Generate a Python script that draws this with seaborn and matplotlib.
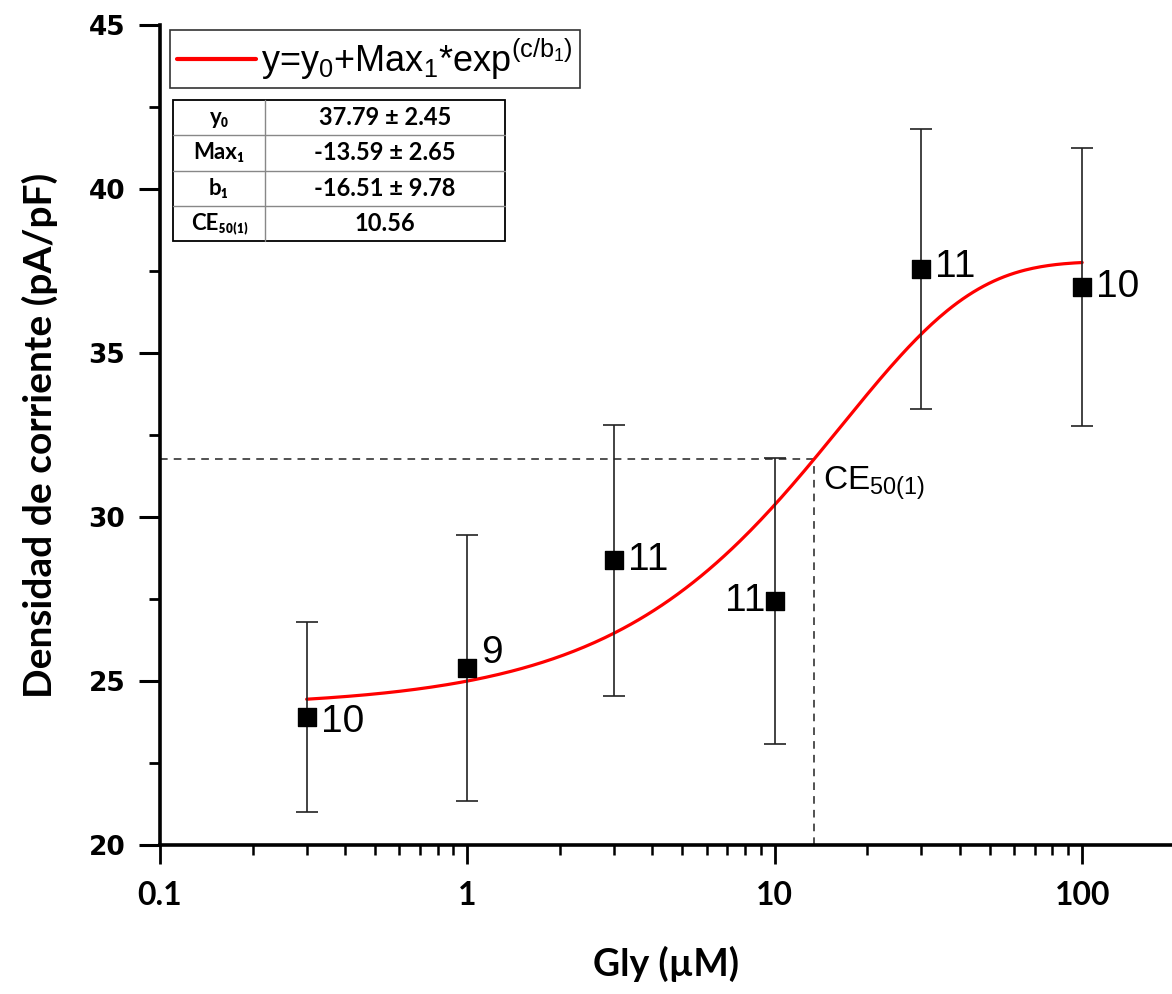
import numpy as np
import pandas as pd
import matplotlib
matplotlib.use("Agg")
import matplotlib.pyplot as plt
from matplotlib.lines import Line2D
from matplotlib.patches import Rectangle
from matplotlib.ticker import LogLocator, FixedLocator, FuncFormatter, MultipleLocator
import seaborn as sns

# Glycine dose-response data
conc = [0.3, 1, 3, 10, 30, 100]
current = [23.90, 25.40, 28.68, 27.44, 37.56, 37.01]
sem = [2.90, 4.05, 4.14, 4.36, 4.28, 4.24]
n_cells = ["10", "9", "11", "11", "11", "10"]

# Exponential fit parameters
y0 = 37.79
max1 = -13.59
b1 = -16.51
param_names = ["y₀", "Max₁", "b₁", "CE₅₀₍₁₎"]
param_values = ["37.79 ± 2.45", "-13.59 ± 2.65", "-16.51 ± 9.78", "10.56"]

# Guide lines through the curve
ce50_guide_x = 13.4

x_ticks = [0.1, 1, 10, 100]
x_tick_labels = ["0.1", "1", "10", "100"]

sns.set_theme(style="white")
plt.rcParams["font.family"] = ["Liberation Sans", "DejaVu Sans"]
plt.rcParams["mathtext.fontset"] = "custom"
plt.rcParams["mathtext.rm"] = "Liberation Sans"
plt.rcParams["mathtext.default"] = "regular"
for key in ["text.color", "axes.labelcolor", "xtick.color", "ytick.color"]:
    plt.rcParams[key] = "black"

fig = plt.figure(figsize=(11.72, 9.94), dpi=100)
ax = fig.add_axes([160 / 1172, 149 / 994, 1 - 160 / 1172, 820 / 994])

def model(c):
    return y0 + max1 * np.exp(c / b1)

xfit = np.logspace(np.log10(conc[0]), np.log10(conc[-1]), 300)
fit_df = pd.DataFrame({"c": xfit, "y": model(xfit)})
sns.lineplot(data=fit_df, x="c", y="y", color="#ff0000", lw=2.3, ax=ax, zorder=3)

# guide lines at the marked point of the fit
gy = model(ce50_guide_x)
ax.plot([0.1, ce50_guide_x], [gy, gy], ls=(0, (5, 4)), color="#222222", lw=1.1, zorder=2)
ax.plot([ce50_guide_x, ce50_guide_x], [20, gy], ls=(0, (5, 4)), color="#222222", lw=1.1, zorder=2)
ax.text(ce50_guide_x * 1.07, gy - 0.15, r"CE$_{50(1)}$", fontsize=24, va="top", ha="left",
        family="Liberation Sans", color="black")

ax.errorbar(conc, current, yerr=sem, fmt="none", ecolor="#222222", elinewidth=1.2,
            capsize=8, capthick=1.2, zorder=4)
pts = pd.DataFrame({"c": conc, "y": current})
sns.scatterplot(data=pts, x="c", y="y", marker="s", s=150, color="black",
                edgecolor="black", ax=ax, zorder=5)

# n labels next to each mean
offsets = [(1.11, -0.15, "left"), (1.11, 0.45, "left"), (1.11, 0.0, "left"),
           (0.93, 0.0, "right"), (1.11, 0.05, "left"), (1.11, 0.0, "left")]
for c, y, lab, (fx, dy, ha) in zip(conc, current, n_cells, offsets):
    ax.text(c * fx, y + dy, lab, fontsize=28, ha=ha, va="center", family="Liberation Sans",
            color="black")

ax.set_xscale("log")
ax.set_xlim(0.1, 196)
ax.set_ylim(20, 45)
ax.xaxis.set_major_locator(FixedLocator(x_ticks))
ax.xaxis.set_major_formatter(FuncFormatter(lambda v, p: x_tick_labels[x_ticks.index(v)] if v in x_ticks else ""))
ax.xaxis.set_minor_locator(LogLocator(base=10, subs=np.arange(2, 10), numticks=20))
ax.xaxis.set_minor_formatter(FuncFormatter(lambda v, p: ""))
ax.yaxis.set_major_locator(MultipleLocator(5))
ax.yaxis.set_minor_locator(MultipleLocator(2.5))

for side in ["top", "right"]:
    ax.spines[side].set_visible(False)
for side in ["left", "bottom"]:
    ax.spines[side].set_linewidth(2.6)
    ax.spines[side].set_color("black")

ax.tick_params(axis="x", which="major", direction="out", length=14, width=2, pad=12, bottom=True,
               color="black", labelcolor="black")
ax.tick_params(axis="x", which="minor", direction="out", length=7, width=1.8, bottom=True, color="black")
ax.tick_params(axis="y", which="major", direction="out", length=15, width=2.2, pad=10, left=True,
               color="black", labelcolor="black")
ax.tick_params(axis="y", which="minor", direction="out", length=8, width=2, left=True, color="black")
for t in ax.get_xticklabels():
    t.set_family(["Lato", "DejaVu Sans"])
    t.set_fontweight("bold")
    t.set_fontsize(23)
for t in ax.get_yticklabels():
    t.set_family("DejaVu Sans")
    t.set_fontweight("bold")
    t.set_fontsize(19)

ax.set_xlabel("Gly (µM)", fontsize=27, fontweight="bold", family=["Lato", "DejaVu Sans"],
              labelpad=26, color="black")
ax.set_ylabel("Densidad de corriente (pA/pF)", fontsize=28, fontweight="bold",
              family=["Lato", "DejaVu Sans"], labelpad=22, color="black")

# legend for the fitted curve
handle = Line2D([], [], color="#ff0000", lw=3)
leg = ax.legend([handle], [r"y=y$_0$+Max$_1$*exp$^{(c/b_1)}$"], loc="upper left",
                bbox_to_anchor=(0.0099, 0.994), fontsize=26, frameon=True, fancybox=False,
                handlelength=2.2, borderpad=0.18, handletextpad=0.15, borderaxespad=0)
leg.get_frame().set_edgecolor("black")
leg.get_frame().set_linewidth(1.2)
for t in leg.get_texts():
    t.set_color("black")

# parameter table
tx0, tx1, tx2 = 0.0128, 0.104, 0.341
ty_top, ty_bot = 0.9085, 0.7366
rh = (ty_top - ty_bot) / len(param_names)
for i, (name, val) in enumerate(zip(param_names, param_values)):
    ytop = ty_top - i * rh
    yc = ytop - rh / 2
    ax.text((tx0 + tx1) / 2, yc, name, transform=ax.transAxes, ha="center", va="center",
            fontsize=16, fontweight="bold", family=["Lato", "DejaVu Sans"], zorder=7, color="black")
    ax.text((tx1 + tx2) / 2, yc, val, transform=ax.transAxes, ha="center", va="center",
            fontsize=17, fontweight="bold", family=["Lato", "DejaVu Sans"], zorder=7, color="black")
    if i > 0:
        ax.plot([tx0, tx2], [ytop, ytop], transform=ax.transAxes, color="#888888", lw=1.0,
                zorder=7, clip_on=False)
ax.plot([tx1, tx1], [ty_bot, ty_top], transform=ax.transAxes, color="#888888", lw=1.0,
        zorder=7, clip_on=False)
ax.add_patch(Rectangle((tx0, ty_bot), tx2 - tx0, ty_top - ty_bot, transform=ax.transAxes,
                       facecolor="white", edgecolor="black", lw=1.3, zorder=6, clip_on=False))

fig.savefig("out.png", dpi=100)
